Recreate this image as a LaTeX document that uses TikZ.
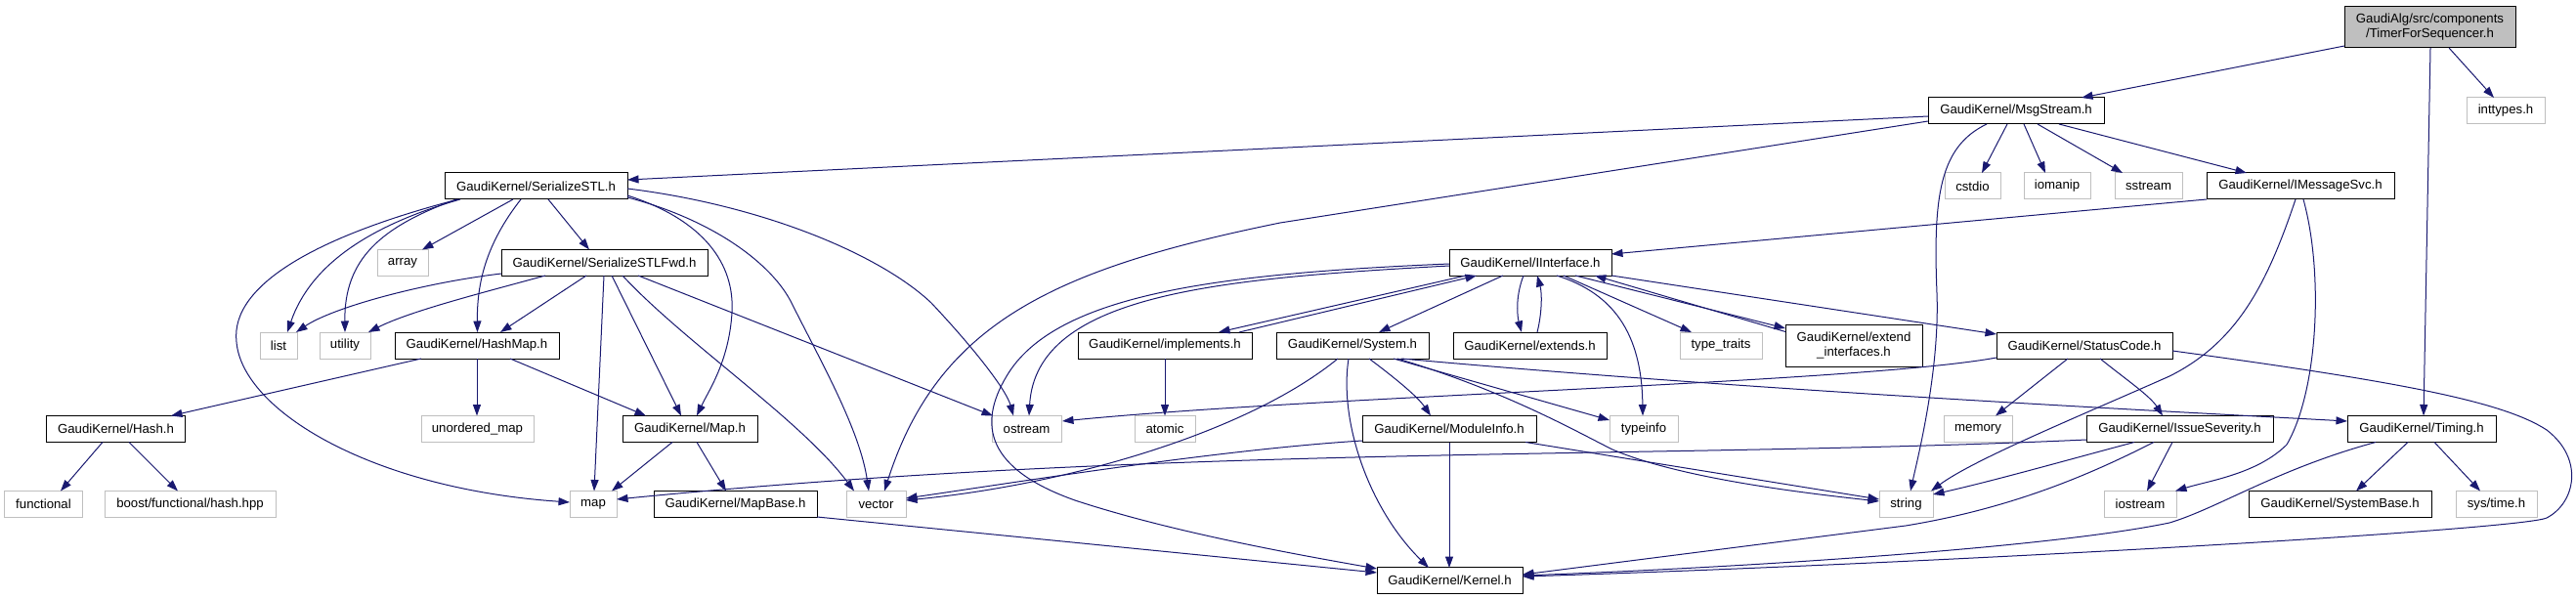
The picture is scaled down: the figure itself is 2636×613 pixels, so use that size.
\documentclass[tikz,border=0pt]{standalone}
\usepackage{fontspec}
\setmainfont{Liberation Sans}
\usetikzlibrary{arrows.meta,calc}
\definecolor{edgeblue}{HTML}{191970}
\definecolor{greyline}{HTML}{BFBFBF}
\definecolor{rootfill}{HTML}{BFBFBF}
\newcommand{\nodefont}{\fontsize{13.2bp}{15bp}\selectfont}
\tikzset{
  box/.style={draw=black, line width=1bp, inner sep=0pt, minimum height=27bp, font=\nodefont, text=black, align=center},
  sysbox/.style={box, draw=greyline},
  edge/.style={draw=edgeblue, line width=1bp, -{Triangle[length=11.5bp,width=8bp]}}
}
\begin{document}
\begin{tikzpicture}[x=1bp,y=-1bp]
\fill[white] (0,0) rectangle (2636,613);
\useasboundingbox (0,0) rectangle (2636,613);

% nodes
\node[box, fill=rootfill, minimum width=175bp, minimum height=42bp] (tfs) at (2486.5,28) {GaudiAlg/src/components\\/TimerForSequencer.h};
\node[box, minimum width=180bp] (msg) at (2063,113.5) {GaudiKernel/MsgStream.h};
\node[sysbox, minimum width=80bp] (intt) at (2564,113.5) {inttypes.h};
\node[box, minimum width=187bp] (sstl) at (548.5,190.5) {GaudiKernel/SerializeSTL.h};
\node[sysbox, minimum width=57bp] (cstdio) at (2018.5,190.5) {cstdio};
\node[sysbox, minimum width=68bp] (iomanip) at (2105,190.5) {iomanip};
\node[sysbox, minimum width=69bp] (sstream) at (2198.5,190.5) {sstream};
\node[box, minimum width=192bp] (imsg) at (2354,190.5) {GaudiKernel/IMessageSvc.h};
\node[sysbox, minimum width=52bp] (array) at (412,269) {array};
\node[box, minimum width=211bp] (sfwd) at (618.5,269) {GaudiKernel/SerializeSTLFwd.h};
\node[box, minimum width=166bp] (iint) at (1566,269) {GaudiKernel/IInterface.h};
\node[sysbox, minimum width=38bp] (list) at (285,353.5) {list};
\node[sysbox, minimum width=52bp] (utility) at (353,353.5) {utility};
\node[box, minimum width=168bp] (hmap) at (488,353.5) {GaudiKernel/HashMap.h};
\node[box, minimum width=178bp] (impl) at (1192,353.5) {GaudiKernel/implements.h};
\node[box, minimum width=156bp] (sys) at (1384,353.5) {GaudiKernel/System.h};
\node[box, minimum width=157bp] (ext) at (1565.5,353.5) {GaudiKernel/extends.h};
\node[sysbox, minimum width=84bp] (tt) at (1761,353.5) {type\_traits};
\node[box, minimum width=140bp, minimum height=43bp] (eif) at (1897,353.5) {GaudiKernel/extend\\\_interfaces.h};
\node[box, minimum width=180bp] (sc) at (2133,353.5) {GaudiKernel/StatusCode.h};
\node[box, minimum width=141bp] (hash) at (118.5,439) {GaudiKernel/Hash.h};
\node[sysbox, minimum width=115bp] (umap) at (488.5,439) {unordered\_map};
\node[box, minimum width=138bp] (mapH) at (706,439) {GaudiKernel/Map.h};
\node[sysbox, minimum width=71bp] (ostream) at (1050.5,439) {ostream};
\node[sysbox, minimum width=62bp] (atomic) at (1192,439) {atomic};
\node[box, minimum width=178bp] (modinfo) at (1483,439) {GaudiKernel/ModuleInfo.h};
\node[sysbox, minimum width=70bp] (typeinfo) at (1682,439) {typeinfo};
\node[sysbox, minimum width=70bp] (memory) at (2024,439) {memory};
\node[box, minimum width=191bp] (issue) at (2230.5,439) {GaudiKernel/IssueSeverity.h};
\node[box, minimum width=152bp] (timing) at (2478,439) {GaudiKernel/Timing.h};
\node[sysbox, minimum width=79bp] (functional) at (44.5,516) {functional};
\node[sysbox, minimum width=175bp] (boost) at (194.5,516) {boost/functional/hash.hpp};
\node[sysbox, minimum width=48bp] (map) at (607,516) {map};
\node[box, minimum width=167bp] (mapbase) at (752.5,516) {GaudiKernel/MapBase.h};
\node[sysbox, minimum width=61bp] (vector) at (896.5,516) {vector};
\node[sysbox, minimum width=55bp] (string) at (1950.5,516) {string};
\node[sysbox, minimum width=74bp] (iostream) at (2190,516) {iostream};
\node[box, minimum width=187bp] (sysbase) at (2394.5,516) {GaudiKernel/SystemBase.h};
\node[sysbox, minimum width=83bp] (systime) at (2554.5,516) {sys/time.h};
\node[box, minimum width=149bp] (kernel) at (1483.5,594) {GaudiKernel/Kernel.h};

% root
\draw[edge] ($(tfs.center)+(-87.5,19)$) -- ($(msg.center)+(67,-13.5)$);
\draw[edge] ($(tfs.center)+(19.5,21)$) -- ($(intt.center)+(-12,-13.5)$);
\draw[edge] ($(tfs.center)+(0.5,21)$) -- ($(timing.center)+(2,-13.5)$);

% MsgStream
\draw[edge] ($(msg.center)+(-90,5.5)$) -- ($(sstl.center)+(93.5,-6.5)$);
\draw[edge] ($(msg.center)+(-90,10.5)$) -- (1310,228) .. controls (1080,275) and (960,330) .. ($(vector.center)+(8.5,-13.5)$);
\draw[edge] ($(msg.center)+(-30,13.5)$) .. controls (1985,150) and (1978,200) .. (1982,300) .. controls (1985,380) and (1962,470) .. ($(string.center)+(4.5,-13.5)$);
\draw[edge] ($(msg.center)+(-9,13.5)$) -- ($(cstdio.center)+(9.5,-13.5)$);
\draw[edge] ($(msg.center)+(8,13.5)$) -- ($(iomanip.center)+(-12,-13.5)$);
\draw[edge] ($(msg.center)+(22,13.5)$) -- ($(sstream.center)+(-26.5,-13.5)$);
\draw[edge] ($(msg.center)+(44,13.5)$) -- ($(imsg.center)+(-55,-13.5)$);

% IMessageSvc
\draw[edge] ($(imsg.center)+(-96,13.5)$) -- ($(iint.center)+(83,-9)$);
\draw[edge] ($(imsg.center)+(-5,13.5)$) .. controls (2320,290) and (2290,350) .. (2220,385) .. controls (2130,425) and (2020,470) .. ($(string.center)+(25.5,-13.5)$);
\draw[edge] ($(imsg.center)+(3,13.5)$) .. controls (2378,280) and (2372,400) .. (2340,455) .. controls (2310,485) and (2260,492) .. ($(iostream.center)+(36,-13.5)$);

% SerializeSTL
\draw[edge] ($(sstl.center)+(-23.5,13.5)$) -- ($(array.center)+(20,-13.5)$);
\draw[edge] ($(sstl.center)+(12.5,13.5)$) -- ($(sfwd.center)+(-15.5,-13.5)$);
\draw[edge] ($(sstl.center)+(-15.5,13.5)$) .. controls (497,250) and (488,290) .. ($(hmap.center)+(0.5,-13.5)$);
\draw[edge] ($(sstl.center)+(-77.5,13.5)$) .. controls (380,230) and (318,270) .. ($(list.center)+(9,-13.5)$);
\draw[edge] ($(sstl.center)+(-81.5,13.5)$) .. controls (390,232) and (352,265) .. ($(utility.center)+(0,-13.5)$);
\draw[edge] ($(sstl.center)+(-79.5,13.5)$) .. controls (330,240) and (235,290) .. (242,350) .. controls (248,420) and (380,500) .. ($(map.center)+(-24,-2)$);
\draw[edge] ($(sstl.center)+(93.5,9.5)$) .. controls (720,225) and (752,270) .. (749,320) .. controls (746,370) and (725,400) .. ($(mapH.center)+(7,-13.5)$);
\draw[edge] ($(sstl.center)+(93.5,11.5)$) .. controls (730,225) and (790,270) .. (810,310) .. controls (840,370) and (880,440) .. ($(vector.center)+(-7.5,-13.5)$);
\draw[edge] ($(sstl.center)+(93.5,2.5)$) .. controls (780,210) and (900,260) .. (953,310) .. controls (1000,360) and (1030,400) .. ($(ostream.center)+(-13.5,-13.5)$);

% SerializeSTLFwd
\draw[edge] ($(sfwd.center)+(-105.5,11)$) .. controls (430,290) and (340,315) .. ($(list.center)+(18,-13.5)$);
\draw[edge] ($(sfwd.center)+(-60.5,13)$) .. controls (500,298) and (420,318) .. ($(utility.center)+(24,-13.5)$);
\draw[edge] ($(sfwd.center)+(-18.5,13)$) -- ($(hmap.center)+(24,-13.5)$);
\draw[edge] ($(sfwd.center)+(-0.5,13)$) -- ($(map.center)+(1,-13.5)$);
\draw[edge] ($(sfwd.center)+(7.5,13)$) -- ($(mapH.center)+(-9,-13.5)$);
\draw[edge] ($(sfwd.center)+(18.5,13)$) .. controls (700,350) and (820,430) .. ($(vector.center)+(-22.5,-13.5)$);
\draw[edge] ($(sfwd.center)+(34.5,13)$) -- ($(ostream.center)+(-34.5,-13.5)$);

% HashMap, Hash, Map, MapBase
\draw[edge] ($(hmap.center)+(-57,13.5)$) -- ($(hash.center)+(56.5,-13.5)$);
\draw[edge] ($(hmap.center)+(0,13.5)$) -- ($(umap.center)+(-0.5,-13.5)$);
\draw[edge] ($(hmap.center)+(34,13.5)$) -- ($(mapH.center)+(-45,-13.5)$);
\draw[edge] ($(hash.center)+(-13.5,13.5)$) -- ($(functional.center)+(17.5,-13.5)$);
\draw[edge] ($(hash.center)+(13.5,13.5)$) -- ($(boost.center)+(-12.5,-13.5)$);
\draw[edge] ($(mapH.center)+(-18,13.5)$) -- ($(map.center)+(19,-13.5)$);
\draw[edge] ($(mapH.center)+(7,13.5)$) -- ($(mapbase.center)+(-9.5,-13.5)$);
\draw[edge] ($(mapbase.center)+(83.5,13)$) -- ($(kernel.center)+(-74.5,-8)$);

% IInterface
\draw[edge] ($(iint.center)+(-83,1)$) .. controls (1250,280) and (1080,300) .. (1030,385) .. controls (1000,435) and (1010,480) .. (1100,512) .. controls (1200,545) and (1330,568) .. ($(kernel.center)+(-74.5,-12)$);
\draw[edge] ($(iint.center)+(-83,3)$) .. controls (1250,285) and (1060,300) .. ($(ostream.center)+(2.5,-13.5)$);
\draw[edge] ($(iint.center)+(-66,13)$) -- ($(impl.center)+(55,-13.5)$);
\draw[edge] ($(impl.center)+(76,-13.5)$) -- ($(iint.center)+(-55,13)$);
\draw[edge] ($(iint.center)+(-28,13)$) -- ($(sys.center)+(27,-13.5)$);
\draw[edge] ($(iint.center)+(-7,13)$) .. controls (1550,305) and (1553,325) .. ($(ext.center)+(-8.5,-13.5)$);
\draw[edge] ($(ext.center)+(7.5,-13.5)$) .. controls (1578,320) and (1578,300) .. ($(iint.center)+(7,13)$);
\draw[edge] ($(iint.center)+(27,13)$) .. controls (1650,300) and (1680,340) .. ($(typeinfo.center)+(-1,-13.5)$);
\draw[edge] ($(iint.center)+(34,13)$) -- ($(tt.center)+(-30,-13.5)$);
\draw[edge] ($(iint.center)+(46,13)$) -- ($(eif.center)+(-70,-17.5)$);
\draw[edge] ($(eif.center)+(-70,-14)$) -- ($(iint.center)+(66,13)$);
\draw[edge] ($(iint.center)+(83,13)$) -- ($(sc.center)+(-90,-11.5)$);

% System
\draw[edge] ($(sys.center)+(-4,13.5)$) .. controls (1370,430) and (1400,520) .. ($(kernel.center)+(-21.5,-13)$);
\draw[edge] ($(sys.center)+(-15,13.5)$) .. controls (1280,440) and (1100,495) .. ($(vector.center)+(30.5,-4)$);
\draw[edge] ($(sys.center)+(17,13.5)$) .. controls (1425,385) and (1450,405) .. ($(modinfo.center)+(-19,-13.5)$);
\draw[edge] ($(sys.center)+(42,13.5)$) -- ($(typeinfo.center)+(-35,-9)$);
\draw[edge] ($(sys.center)+(46,13.5)$) .. controls (1540,400) and (1610,440) .. (1650,460) .. controls (1720,490) and (1850,505) .. ($(string.center)+(-27.5,-3)$);
\draw[edge] ($(sys.center)+(50,13.5)$) .. controls (1800,400) and (2200,420) .. ($(timing.center)+(-76,-8)$);

% ModuleInfo
\draw[edge] ($(modinfo.center)+(0,13.5)$) -- ($(kernel.center)+(-0.5,-13)$);
\draw[edge] ($(modinfo.center)+(78,13.5)$) -- ($(string.center)+(-27.5,-5)$);
\draw[edge] ($(modinfo.center)+(-89,12)$) .. controls (1250,460) and (1050,492) .. ($(vector.center)+(30.5,-6)$);

% StatusCode
\draw[edge] ($(sc.center)+(-17,13.5)$) -- ($(memory.center)+(18,-13.5)$);
\draw[edge] ($(sc.center)+(16,13.5)$) .. controls (2175,388) and (2200,405) .. ($(issue.center)+(-17.5,-13.5)$);
\draw[edge] ($(sc.center)+(-90,12.5)$) .. controls (1900,392) and (1350,405) .. ($(ostream.center)+(36.5,-8)$);
\draw[edge] ($(sc.center)+(90,5.5)$) .. controls (2450,390) and (2560,410) .. (2606,440) .. controls (2645,470) and (2635,515) .. (2606,530) .. controls (2580,542) and (2000,576) .. ($(kernel.center)+(74.5,-4)$);

% IssueSeverity
\draw[edge] ($(issue.center)+(-46.5,13.5)$) .. controls (2100,475) and (2040,492) .. ($(string.center)+(27.5,-10)$);
\draw[edge] ($(issue.center)+(-26.5,13.5)$) .. controls (2140,485) and (2060,520) .. (1950,538) -- ($(kernel.center)+(74.5,-6)$);
\draw[edge] ($(issue.center)+(-7.5,13.5)$) -- ($(iostream.center)+(7,-13.5)$);
\draw[edge] ($(issue.center)+(-95.5,11)$) .. controls (1700,470) and (1200,455) .. ($(map.center)+(24,-5)$);

% Timing
\draw[edge] ($(timing.center)+(-14,13.5)$) -- ($(sysbase.center)+(16.5,-13.5)$);
\draw[edge] ($(timing.center)+(13,13.5)$) -- ($(systime.center)+(-16.5,-13.5)$);
\draw[edge] ($(timing.center)+(-47,13.5)$) .. controls (2330,480) and (2270,520) .. (2220,535) .. controls (2100,560) and (1800,580) .. ($(kernel.center)+(74.5,-5)$);

% implements
\draw[edge] ($(impl.center)+(0,13.5)$) -- ($(atomic.center)+(0,-13.5)$);
\end{tikzpicture}
\end{document}
